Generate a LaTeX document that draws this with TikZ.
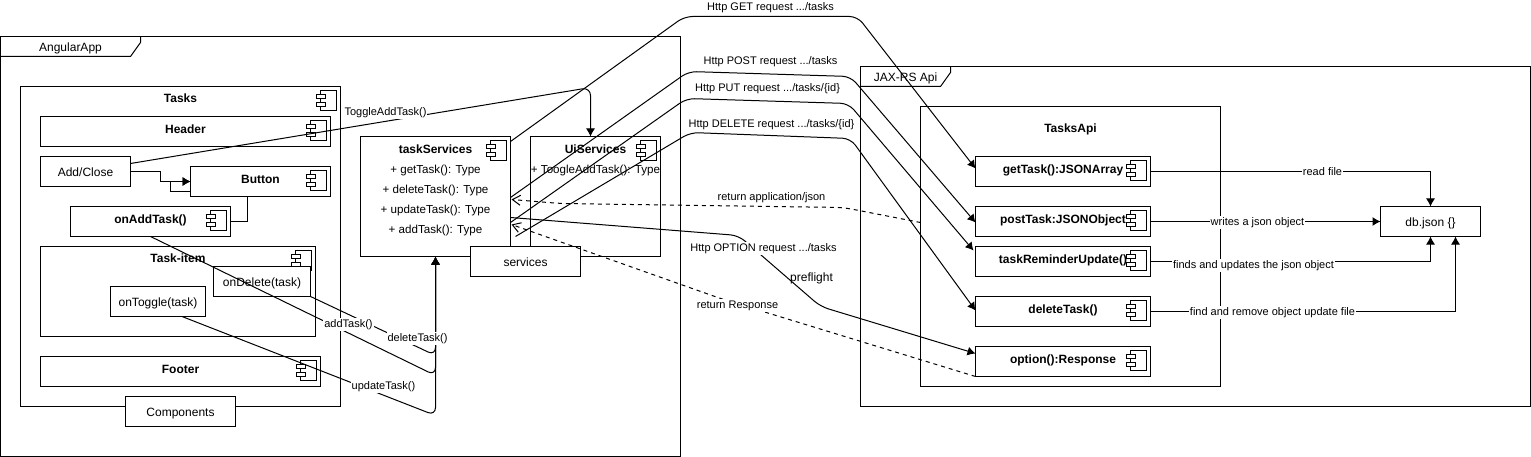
\documentclass[tikz,border=0pt]{standalone}
\usepackage{fontspec}
\setmainfont{Liberation Sans}
\usetikzlibrary{arrows.meta}

\begin{document}
\begin{tikzpicture}[x=1pt,y=-1pt,line width=1pt,line join=miter]
	\tikzset{>={Latex[length=8pt,width=9pt]}}
	\tikzset{every node/.style={inner sep=0pt,outer sep=0pt,font=\fontsize{12}{14.4}\selectfont}}
	\tikzset{box/.style={draw,fill=white,anchor=north west,align=center,text height=10pt,text depth=0pt}}
	\tikzset{boldbox/.style={box,font=\fontsize{12}{14.4}\selectfont\bfseries,text height=9pt,text depth=5pt}}
	\tikzset{boxtitle/.style={anchor=north,align=center,yshift=-8pt,font=\fontsize{12}{14.4}\selectfont\bfseries,text height=8pt,text depth=3pt}}
	\tikzset{stacktext/.style={anchor=north,align=center,font=\fontsize{11.6}{20}\selectfont}}
	\tikzset{frametitle/.style={text height=9pt,text depth=0pt}}
	\tikzset{lbl/.style={fill=white,inner sep=1pt,font=\fontsize{11}{13}\selectfont,text height=8pt,text depth=2.5pt}}
	\tikzset{plainlbl/.style={lbl,fill=none}}
	\tikzset{conn/.style={->,rounded corners=8pt}}
	\tikzset{back/.style={dashed,dash pattern=on 4pt off 4pt,rounded corners=8pt,-{Straight Barb[length=8pt,width=10pt]}}}
	\tikzset{compicon/.pic={
		\draw[fill=white] (-20.5,4) rectangle (-4,24);
		\draw[fill=white] (-24,8) rectangle (-15,12);
		\draw[fill=white] (-24,16) rectangle (-15,20);
	}}
	\useasboundingbox (-0.5,-0.5) rectangle (1530.5,456.5);

	\node[box,minimum width=680pt,minimum height=420pt] (angularApp) at (0,36) {};
	\draw (angularApp.north west |- 0,56) -- (130,56) -- (140,42) -- (140,36);
	\node[frametitle] (angularTitle) at (70,47) {AngularApp};

	\node[box,minimum width=320pt,minimum height=320pt,label={[boxtitle]north:Tasks}] (tasks) at (20,86) {};
	\node[boldbox,minimum width=290pt,minimum height=30pt] (header) at (40,116) {Header};
	\node[box,minimum width=90pt,minimum height=30pt] (addClose) at (40,156) {Add/Close};
	\node[boldbox,minimum width=140pt,minimum height=30pt] (button) at (190,166) {Button};
	\node[boldbox,minimum width=160pt,minimum height=30pt] (onAddTask) at (70,206) {onAddTask()};
	\node[box,minimum width=275pt,minimum height=90pt,label={[boxtitle]north:Task-item}] (taskItem) at (40,246) {};
	\pic at (taskItem.north east) {compicon};
	\node[box,minimum width=97pt,minimum height=30pt] (onDelete) at (213,266) {onDelete(task)};
	\node[box,minimum width=95pt,minimum height=30pt] (onToggle) at (110,286) {onToggle(task)};
	\node[boldbox,minimum width=280pt,minimum height=30pt] (footer) at (40,356) {Footer};
	\node[box,minimum width=110pt,minimum height=30pt] (components) at (125,396) {Components};

	\node[box,minimum width=150pt,minimum height=120pt] (taskServices) at (360,136) {};
	\node[stacktext] (taskServicesText) at (435,144) {{\fontsize{12}{20}\selectfont\bfseries taskServices}\\+ getTask(): Type\\+ deleteTask(): Type\\+ updateTask(): Type\\+ addTask(): Type};
	\node[box,minimum width=130pt,minimum height=120pt] (uiServices) at (530,136) {};
	\node[stacktext] (uiServicesText) at (595,144) {{\fontsize{12}{20}\selectfont\bfseries UiServices}\\+ ToogleAddTask(): Type};
	\node[box,minimum width=110pt,minimum height=30pt] (services) at (470,246) {services};

	\node[box,minimum width=670pt,minimum height=340pt] (jaxRs) at (860,66) {};
	\draw (860,86) -- (940,86) -- (950,72) -- (950,66);
	\node[frametitle] (jaxTitle) at (905,77) {JAX-RS Api};

	\node[box,minimum width=300pt,minimum height=280pt,label={[boxtitle,yshift=-10pt]north:TasksApi}] (tasksApi) at (920,106) {};
	\node[boldbox,minimum width=175pt,minimum height=30pt] (getTask) at (975,156) {getTask():JSONArray};
	\node[boldbox,minimum width=175pt,minimum height=30pt] (postTask) at (975,206) {postTask:JSONObject};
	\node[boldbox,minimum width=175pt,minimum height=30pt] (taskReminder) at (975,246) {taskReminderUpdate()};
	\node[boldbox,minimum width=175pt,minimum height=30pt] (deleteTask) at (975,296) {deleteTask()};
	\node[boldbox,minimum width=175pt,minimum height=30pt] (option) at (975,346) {option():Response};
	\node[box,minimum width=100pt,minimum height=30pt] (dbJson) at (1380,206) {db.json \{\}};

	\foreach \boxname in {tasks,header,button,onAddTask,footer,taskServices,uiServices,getTask,postTask,taskReminder,deleteTask,option}
		\pic at (\boxname.north east) {compicon};

	\draw[->] (addClose.east) -- ++(30,0) |- ([yshift=0pt]button.west);
	\draw[->] ([yshift=-10pt]button.west) -- ++(-20,0) |- (button.west);
	\draw (onAddTask.east) -| (button.south -| 246.5,0);

	\draw[conn] ([yshift=8pt]addClose.east) -- (590,87) -- (uiServices.north -| 590,0);
	\node[lbl] (toggleLbl) at (385,112) {ToggleAddTask()};

	\draw[conn] (onAddTask.south) -- (435,375) -- (taskServices.south);
	\draw[conn] (onDelete.south east) -- (435,355) -- (taskServices.south);
	\draw[conn] (onToggle.south -| 181.5,0) -- (435,415) -- (taskServices.south);
	\node[lbl] (addLbl) at (348,324) {addTask()};
	\node[lbl] (deleteLbl) at (417,338) {deleteTask()};
	\node[lbl] (updateLbl) at (383,386) {updateTask()};

	\draw[conn] ([yshift=-5pt]taskServices.north east) -- (684,16) -- (857,16) -- ([yshift=3pt]getTask.west);
	\draw[conn] ([yshift=-1pt]taskServices.east) -- (688,71) -- (850,76) -- ([yshift=-1pt]postTask.west);
	\draw[conn] ([yshift=-26pt]taskServices.east) -- (686,98) -- (848,103) -- ([xshift=-2pt,yshift=11pt]taskReminder.west);
	\draw[conn] ([xshift=5pt,yshift=-40pt]taskServices.east) -- (690,132) -- (850,138) -- ([yshift=1pt]deleteTask.west);
	\draw[conn] ([yshift=-21pt]taskServices.east) -- (738,235) -- (820,306) -- ([yshift=8pt]option.west);
	\node[plainlbl] (getLbl) at (770,7) {Http GET request .../tasks};
	\node[plainlbl] (postLbl) at (770,61) {Http POST request .../tasks};
	\node[plainlbl] (putLbl) at (767,88) {Http PUT request .../tasks/\{id\}};
	\node[plainlbl] (delLbl) at (771,124) {Http DELETE request .../tasks/\{id\}};
	\node[lbl] (optionLbl) at (763,248) {Http OPTION request .../tasks};
	\node[plainlbl,font=\fontsize{12}{14}\selectfont] (preflightLbl) at (811,278) {preflight};

	\draw[back] ([yshift=24pt]tasksApi.west) -- (843,207) -- (560,203) -- ([xshift=1pt,yshift=-3pt]taskServices.east);
	\draw[back] (option.south west) -- (720,298) -- ([xshift=1pt,yshift=-28pt]taskServices.east);
	\node[plainlbl] (jsonLbl) at (771,197) {return application/json};
	\node[lbl] (responseLbl) at (737,305) {return Response};

	\draw[->] (getTask.east) -| (dbJson.north);
	\draw[->] (postTask.east) -- (dbJson.west);
	\draw[->] (taskReminder.east) -| (dbJson.south);
	\draw[->] (deleteTask.east) -| (dbJson.south -| 1455,0);
	\node[lbl] (readLbl) at (1322,172) {read file};
	\node[lbl] (writesLbl) at (1257,222) {writes a json object};
	\node[lbl] (findsLbl) at (1253,265) {finds and updates the json object};
	\node[lbl] (removeLbl) at (1272,312) {find and remove object update file};
\end{tikzpicture}
\end{document}
